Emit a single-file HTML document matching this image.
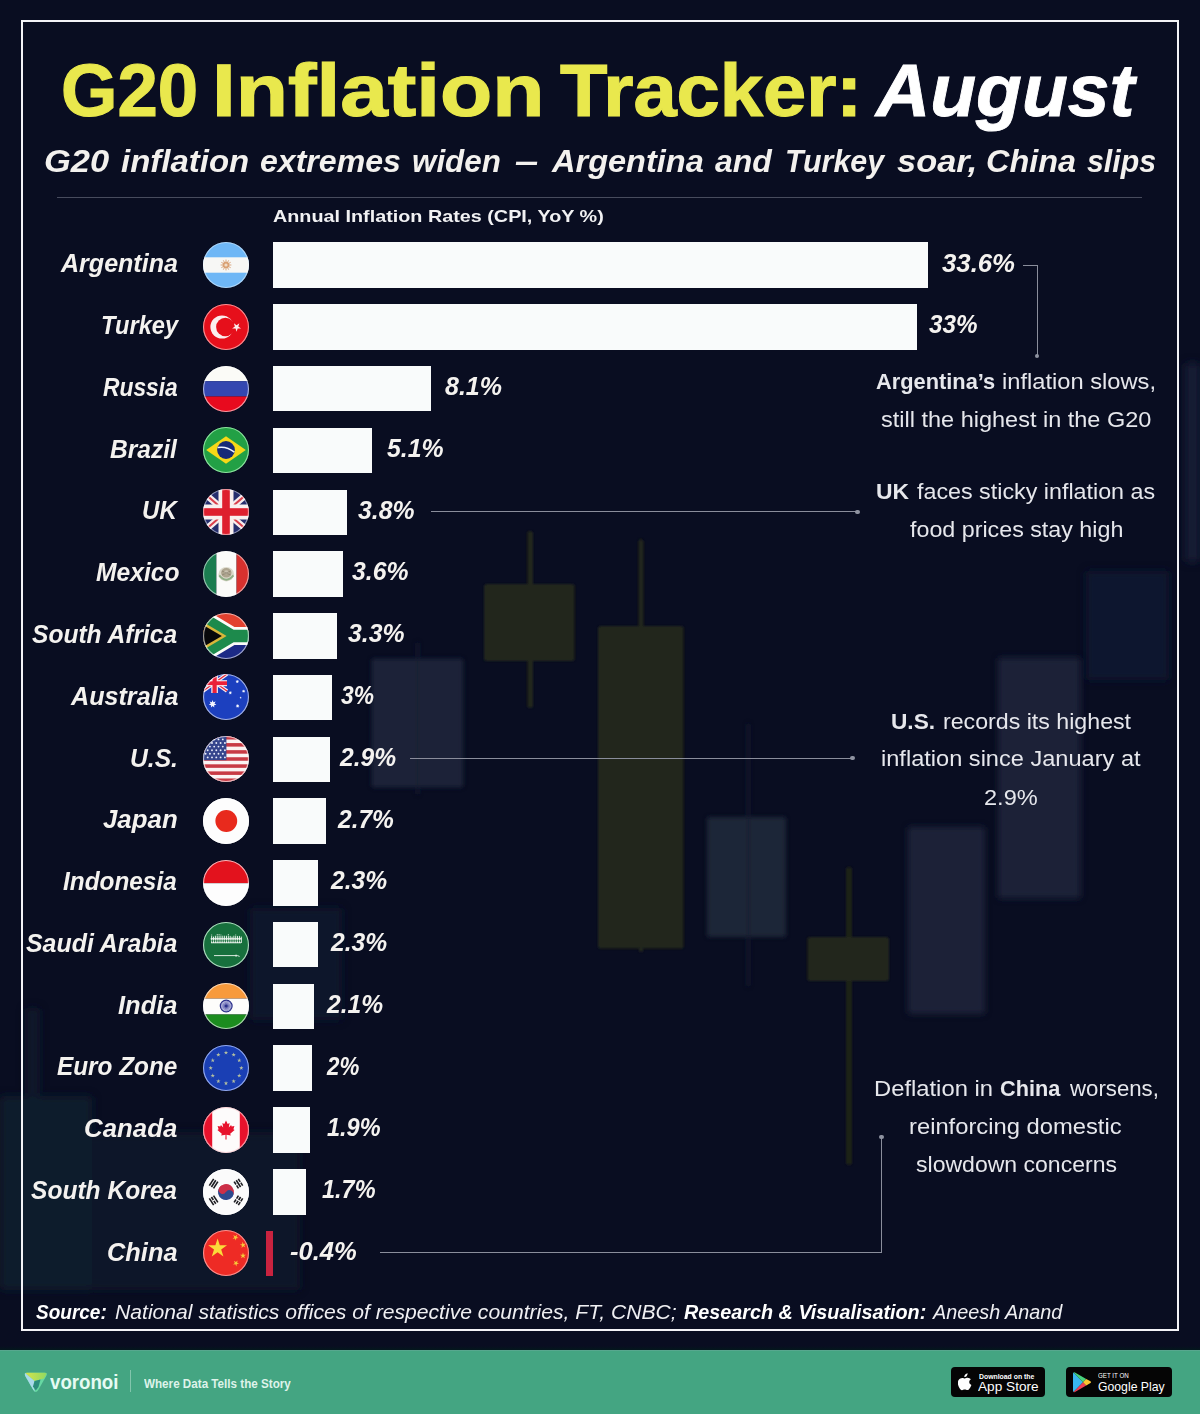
<!DOCTYPE html>
<html lang="en"><head><meta charset="utf-8"><title>G20 Inflation Tracker: August</title>
<style>
*{margin:0;padding:0;box-sizing:border-box}
html,body{width:1200px;height:1414px;overflow:hidden}
body{background:#090d21;font-family:"Liberation Sans",sans-serif;color:#fff;position:relative}
#bg{position:absolute;left:0;top:0;width:1200px;height:1414px}
#frame{position:absolute;left:21.2px;top:20.4px;width:1158.1px;height:1310.8px;border:2.2px solid #f3f3f7}
.t{position:absolute;white-space:nowrap;line-height:1;transform-origin:0 0}
.t b{font-weight:bold}
.i{font-style:italic}
.b{font-weight:bold}
#rule{position:absolute;left:57px;top:196.5px;width:1085px;height:1px;background:#474b5d}
.bar{position:absolute;left:272.8px;height:45.6px;background:#f9fbfb}
.flag{position:absolute;left:203px;width:46px;height:46px}
.flag svg{display:block;width:46px;height:46px}
.ln{position:absolute;background:#8a8d9b}
.dot{position:absolute;width:4.6px;height:4.6px;border-radius:50%;background:#8f93a1}
#footer{position:absolute;left:0;top:1349.7px;width:1200px;height:64.3px;background:#44a582}
</style></head>
<body>
<svg id="bg" width="1200" height="1414" viewBox="0 0 1200 1414"><defs><filter id="b1" x="-5%" y="-5%" width="110%" height="110%"><feGaussianBlur stdDeviation="0.9"/></filter><filter id="b2" x="-5%" y="-5%" width="110%" height="110%"><feGaussianBlur stdDeviation="2.2"/></filter><filter id="b3" x="-5%" y="-5%" width="110%" height="110%"><feGaussianBlur stdDeviation="3.2"/></filter><filter id="b4" x="-5%" y="-5%" width="110%" height="110%"><feGaussianBlur stdDeviation="4"/></filter></defs><g filter="url(#b4)"><rect x="1185" y="363" width="15.0" height="199.0" rx="4" fill="#182036" opacity="0.9"/><rect x="1086" y="571" width="83.0" height="109.0" rx="4" fill="#121b30" opacity="0.9"/><rect x="250" y="908" width="92.0" height="112.0" rx="4" fill="#121b2e" opacity="0.9"/><rect x="0" y="1096" width="92.0" height="194.0" rx="4" fill="#131d30" opacity="0.85"/><rect x="92" y="1132" width="208.0" height="158.0" rx="4" fill="#0f172a" opacity="0.85"/><rect x="25" y="1008" width="15.0" height="88.0" rx="4" fill="#111a2d" opacity="0.7"/></g><g filter="url(#b3)"><rect x="998" y="657.6" width="82.6" height="240.9" rx="3" fill="#1b2338" opacity="0.95"/><rect x="907.8" y="826.8" width="77.2" height="187.2" rx="3" fill="#1b2338" opacity="0.95"/></g><g filter="url(#b2)"><rect x="371.5" y="658.6" width="91.7" height="129.0" rx="3" fill="#1c2437" opacity="1"/><rect x="416.5" y="642" width="2.5" height="153.0" rx="3" fill="#161d31" opacity="1"/><rect x="707" y="817" width="79.0" height="120.0" rx="3" fill="#1f2739" opacity="1"/><rect x="747" y="723" width="2.5" height="264.0" rx="3" fill="#141b2f" opacity="1"/></g><g filter="url(#b1)"><rect x="527.5" y="531" width="5.5" height="177.0" rx="2.5" fill="#20251d" opacity="1"/><rect x="484" y="584" width="90.5" height="77.0" rx="2.5" fill="#20251d" opacity="1"/><rect x="638.7" y="539" width="4.6" height="89.0" rx="2.5" fill="#20251d" opacity="1"/><rect x="598" y="626" width="85.5" height="322.5" rx="2.5" fill="#20251d" opacity="1"/><rect x="638.7" y="946" width="4.6" height="6.0" rx="2.5" fill="#20251d" opacity="1"/><rect x="846" y="867" width="6.0" height="298.0" rx="2.5" fill="#1d2219" opacity="1"/><rect x="807.5" y="937" width="81.5" height="44.0" rx="2.5" fill="#20251d" opacity="1"/></g></svg>
<div id="frame"></div>
<div id="rule"></div>
<div class="flag" style="top:242.0px"><svg viewBox="0 0 46 46"><defs><clipPath id="fc1"><circle cx="23" cy="23" r="23"/></clipPath></defs><g clip-path="url(#fc1)"><rect x="0" y="0" width="46" height="46" fill="#6fb7f6"/><rect x="0" y="15.3" width="46" height="15.4" fill="#f7f7f5"/><line x1="23" y1="23" x2="28.40" y2="23.00" stroke="#dba983" stroke-width="1"/><line x1="23" y1="23" x2="27.68" y2="25.70" stroke="#dba983" stroke-width="1"/><line x1="23" y1="23" x2="25.70" y2="27.68" stroke="#dba983" stroke-width="1"/><line x1="23" y1="23" x2="23.00" y2="28.40" stroke="#dba983" stroke-width="1"/><line x1="23" y1="23" x2="20.30" y2="27.68" stroke="#dba983" stroke-width="1"/><line x1="23" y1="23" x2="18.32" y2="25.70" stroke="#dba983" stroke-width="1"/><line x1="23" y1="23" x2="17.60" y2="23.00" stroke="#dba983" stroke-width="1"/><line x1="23" y1="23" x2="18.32" y2="20.30" stroke="#dba983" stroke-width="1"/><line x1="23" y1="23" x2="20.30" y2="18.32" stroke="#dba983" stroke-width="1"/><line x1="23" y1="23" x2="23.00" y2="17.60" stroke="#dba983" stroke-width="1"/><line x1="23" y1="23" x2="25.70" y2="18.32" stroke="#dba983" stroke-width="1"/><line x1="23" y1="23" x2="27.68" y2="20.30" stroke="#dba983" stroke-width="1"/><circle cx="23" cy="23" r="3.3" fill="#d9a074"/><circle cx="23" cy="23" r="1.6" fill="#f0dcc8"/></g><circle cx="23" cy="23" r="22.45" fill="none" stroke="rgba(255,255,255,.45)" stroke-width="1.1"/></svg></div>
<div class="bar" style="top:242.4px;width:655.5px"></div>
<div class="flag" style="top:303.8px"><svg viewBox="0 0 46 46"><defs><clipPath id="fc2"><circle cx="23" cy="23" r="23"/></clipPath></defs><g clip-path="url(#fc2)"><rect x="0" y="0" width="46" height="46" fill="#e60f1b"/><circle cx="19" cy="23" r="11.6" fill="#fbeeee"/><circle cx="22.4" cy="23" r="9.3" fill="#e60f1b"/><polygon points="36.36,19.20 35.31,22.45 38.07,24.45 34.66,24.45 33.60,27.70 32.54,24.45 29.13,24.45 31.89,22.45 30.84,19.20 33.60,21.20" fill="#fbeeee"/></g><circle cx="23" cy="23" r="22.45" fill="none" stroke="rgba(255,190,190,.75)" stroke-width="1.1"/></svg></div>
<div class="bar" style="top:304.2px;width:643.8px"></div>
<div class="flag" style="top:365.5px"><svg viewBox="0 0 46 46"><defs><clipPath id="fc3"><circle cx="23" cy="23" r="23"/></clipPath></defs><g clip-path="url(#fc3)"><rect x="0" y="0" width="46" height="15.2" fill="#fbfbf7"/><rect x="0" y="15.2" width="46" height="15.3" fill="#3447b0"/><rect x="0" y="30.5" width="46" height="15.5" fill="#e80a1e"/></g><circle cx="23" cy="23" r="22.45" fill="none" stroke="rgba(255,255,255,.6)" stroke-width="1.1"/></svg></div>
<div class="bar" style="top:365.9px;width:158.2px"></div>
<div class="flag" style="top:427.3px"><svg viewBox="0 0 46 46"><defs><clipPath id="fc4"><circle cx="23" cy="23" r="23"/></clipPath></defs><g clip-path="url(#fc4)"><rect x="0" y="0" width="46" height="46" fill="#22a045"/><polygon points="3.2,23 23,9.3 42.8,23 23,36.7" fill="#f6d817"/><circle cx="23" cy="23" r="8.9" fill="#172a78"/><path d="M14.6 20.6 Q23.5 18.8 31.4 25.2" fill="none" stroke="#eef3ff" stroke-width="1.5"/></g><circle cx="23" cy="23" r="22.45" fill="none" stroke="rgba(190,255,200,.7)" stroke-width="1.1"/></svg></div>
<div class="bar" style="top:427.7px;width:99.7px"></div>
<div class="flag" style="top:489.1px"><svg viewBox="0 0 46 46"><defs><clipPath id="fc5"><circle cx="23" cy="23" r="23"/></clipPath></defs><g clip-path="url(#fc5)"><rect x="0" y="0" width="46" height="46" fill="#252e6e"/><path d="M-6 -2 L52 48 M52 -2 L-6 48" stroke="#f6ecec" stroke-width="6.4"/><path d="M-6 -2 L52 48 M52 -2 L-6 48" stroke="#d9404c" stroke-width="2"/><rect x="15.5" y="0" width="15" height="46" fill="#f8efee"/><rect x="0" y="15.5" width="46" height="15" fill="#f8efee"/><rect x="19.2" y="0" width="7.6" height="46" fill="#de1f2e"/><rect x="0" y="19.2" width="46" height="7.6" fill="#de1f2e"/></g><circle cx="23" cy="23" r="22.45" fill="none" stroke="rgba(255,255,255,.5)" stroke-width="1.1"/></svg></div>
<div class="bar" style="top:489.5px;width:74.4px"></div>
<div class="flag" style="top:550.9px"><svg viewBox="0 0 46 46"><defs><clipPath id="fc6"><circle cx="23" cy="23" r="23"/></clipPath></defs><g clip-path="url(#fc6)"><rect x="0" y="0" width="13.4" height="46" fill="#1b7d50"/><rect x="13.4" y="0" width="20.2" height="46" fill="#fbfbf9"/><rect x="33.6" y="0" width="12.4" height="46" fill="#d8312e"/><ellipse cx="23.3" cy="23.2" rx="7.8" ry="7.2" fill="#dcd9cb"/><ellipse cx="23.3" cy="21.8" rx="5.2" ry="4.8" fill="#a59a84" opacity=".85"/><path d="M16.2 24.4 Q23.3 33 30.4 24.4" fill="none" stroke="#8fae86" stroke-width="2"/><ellipse cx="23.3" cy="21.2" rx="2.4" ry="2" fill="#c9c2b0"/><path d="M19 20 L27.6 24 M27.6 20 L19 24" stroke="#7d7462" stroke-width=".8" opacity=".7"/></g><circle cx="23" cy="23" r="22.45" fill="none" stroke="rgba(255,255,255,.55)" stroke-width="1.1"/></svg></div>
<div class="bar" style="top:551.2px;width:70.5px"></div>
<div class="flag" style="top:612.6px"><svg viewBox="0 0 46 46"><defs><clipPath id="fc7"><circle cx="23" cy="23" r="23"/></clipPath></defs><g clip-path="url(#fc7)"><rect x="0" y="0" width="46" height="23" fill="#e2412f"/><rect x="0" y="23" width="46" height="23" fill="#1c2a86"/><path d="M-10 -0.4 L29 23 L-10 46.4 M29 23 L52 23" stroke="#fbfbf8" stroke-width="18" fill="none"/><path d="M-10 -0.4 L29 23 L-10 46.4 M29 23 L52 23" stroke="#1d8a4c" stroke-width="12.4" fill="none"/><polygon points="-6,5.3 23.6,23 -6,40.7" fill="#d9b63a"/><polygon points="-6,8.4 18.9,23 -6,37.6" fill="#08080a"/></g><circle cx="23" cy="23" r="22.45" fill="none" stroke="rgba(255,255,255,.6)" stroke-width="1.1"/></svg></div>
<div class="bar" style="top:613.0px;width:64.6px"></div>
<div class="flag" style="top:674.4px"><svg viewBox="0 0 46 46"><defs><clipPath id="fc8"><circle cx="23" cy="23" r="23"/></clipPath></defs><g clip-path="url(#fc8)"><rect x="0" y="0" width="46" height="46" fill="#1c40bf"/><g><path d="M0 0 L24 17 M24 0 L0 17" stroke="#f5eef2" stroke-width="3.6"/><path d="M0 0 L24 17 M24 0 L0 17" stroke="#e8283c" stroke-width="1.3"/><rect x="8.3" y="0" width="6.6" height="19" fill="#f5eef2"/><rect x="0" y="6.2" width="24" height="6" fill="#f5eef2"/><rect x="9.5" y="0" width="4.2" height="19" fill="#ea2038"/><rect x="0" y="7.3" width="24" height="3.8" fill="#ea2038"/></g><polygon points="9.60,26.10 10.42,28.29 12.65,27.57 11.45,29.58 13.40,30.87 11.09,31.18 11.29,33.51 9.60,31.90 7.91,33.51 8.11,31.18 5.80,30.87 7.75,29.58 6.55,27.57 8.78,28.29" fill="#f4f6ff"/><polygon points="34.30,5.70 34.69,6.79 35.79,6.42 35.18,7.40 36.15,8.02 35.00,8.16 35.12,9.31 34.30,8.50 33.48,9.31 33.60,8.16 32.45,8.02 33.42,7.40 32.81,6.42 33.91,6.79" fill="#f4f6ff"/><polygon points="27.30,16.90 27.69,17.99 28.79,17.62 28.18,18.60 29.15,19.22 28.00,19.36 28.12,20.51 27.30,19.70 26.48,20.51 26.60,19.36 25.45,19.22 26.42,18.60 25.81,17.62 26.91,17.99" fill="#f4f6ff"/><polygon points="40.60,15.40 40.99,16.39 42.01,16.08 41.48,17.00 42.35,17.60 41.30,17.76 41.38,18.82 40.60,18.10 39.82,18.82 39.90,17.76 38.85,17.60 39.72,17.00 39.19,16.08 40.21,16.39" fill="#f4f6ff"/><polygon points="34.60,30.00 35.03,31.10 36.16,30.75 35.57,31.78 36.55,32.45 35.38,32.62 35.47,33.80 34.60,33.00 33.73,33.80 33.82,32.62 32.65,32.45 33.63,31.78 33.04,30.75 34.17,31.10" fill="#f4f6ff"/><polygon points="37.60,22.60 37.92,23.26 38.65,23.36 38.12,23.87 38.25,24.59 37.60,24.25 36.95,24.59 37.08,23.87 36.55,23.36 37.28,23.26" fill="#f4f6ff"/></g><circle cx="23" cy="23" r="22.45" fill="none" stroke="rgba(255,255,255,.6)" stroke-width="1.1"/></svg></div>
<div class="bar" style="top:674.8px;width:58.8px"></div>
<div class="flag" style="top:736.2px"><svg viewBox="0 0 46 46"><defs><clipPath id="fc9"><circle cx="23" cy="23" r="23"/></clipPath></defs><g clip-path="url(#fc9)"><rect x="0" y="0" width="46" height="46" fill="#fbf3f3"/><rect x="0" y="0.0" width="46" height="3.5384615384615383" fill="#c83a45"/><rect x="0" y="7.076923076923077" width="46" height="3.5384615384615383" fill="#c83a45"/><rect x="0" y="14.153846153846153" width="46" height="3.5384615384615383" fill="#c83a45"/><rect x="0" y="21.23076923076923" width="46" height="3.5384615384615383" fill="#c83a45"/><rect x="0" y="28.307692307692307" width="46" height="3.5384615384615383" fill="#c83a45"/><rect x="0" y="35.38461538461539" width="46" height="3.5384615384615383" fill="#c83a45"/><rect x="0" y="42.46153846153846" width="46" height="3.5384615384615383" fill="#c83a45"/><rect x="0" y="0" width="23.4" height="24.169230769230765" fill="#35458c"/><circle cx="2.6" cy="3.4" r="0.95" fill="#e9ecfa"/><circle cx="6.9" cy="3.4" r="0.95" fill="#e9ecfa"/><circle cx="11.2" cy="3.4" r="0.95" fill="#e9ecfa"/><circle cx="15.5" cy="3.4" r="0.95" fill="#e9ecfa"/><circle cx="19.8" cy="3.4" r="0.95" fill="#e9ecfa"/><circle cx="4.7" cy="7.0" r="0.95" fill="#e9ecfa"/><circle cx="9.0" cy="7.0" r="0.95" fill="#e9ecfa"/><circle cx="13.3" cy="7.0" r="0.95" fill="#e9ecfa"/><circle cx="17.6" cy="7.0" r="0.95" fill="#e9ecfa"/><circle cx="21.9" cy="7.0" r="0.95" fill="#e9ecfa"/><circle cx="2.6" cy="10.6" r="0.95" fill="#e9ecfa"/><circle cx="6.9" cy="10.6" r="0.95" fill="#e9ecfa"/><circle cx="11.2" cy="10.6" r="0.95" fill="#e9ecfa"/><circle cx="15.5" cy="10.6" r="0.95" fill="#e9ecfa"/><circle cx="19.8" cy="10.6" r="0.95" fill="#e9ecfa"/><circle cx="4.7" cy="14.2" r="0.95" fill="#e9ecfa"/><circle cx="9.0" cy="14.2" r="0.95" fill="#e9ecfa"/><circle cx="13.3" cy="14.2" r="0.95" fill="#e9ecfa"/><circle cx="17.6" cy="14.2" r="0.95" fill="#e9ecfa"/><circle cx="21.9" cy="14.2" r="0.95" fill="#e9ecfa"/><circle cx="2.6" cy="17.8" r="0.95" fill="#e9ecfa"/><circle cx="6.9" cy="17.8" r="0.95" fill="#e9ecfa"/><circle cx="11.2" cy="17.8" r="0.95" fill="#e9ecfa"/><circle cx="15.5" cy="17.8" r="0.95" fill="#e9ecfa"/><circle cx="19.8" cy="17.8" r="0.95" fill="#e9ecfa"/><circle cx="4.7" cy="21.4" r="0.95" fill="#e9ecfa"/><circle cx="9.0" cy="21.4" r="0.95" fill="#e9ecfa"/><circle cx="13.3" cy="21.4" r="0.95" fill="#e9ecfa"/><circle cx="17.6" cy="21.4" r="0.95" fill="#e9ecfa"/><circle cx="21.9" cy="21.4" r="0.95" fill="#e9ecfa"/></g><circle cx="23" cy="23" r="22.45" fill="none" stroke="rgba(255,255,255,.65)" stroke-width="1.1"/></svg></div>
<div class="bar" style="top:736.6px;width:56.8px"></div>
<div class="flag" style="top:797.9px"><svg viewBox="0 0 46 46"><defs><clipPath id="fc10"><circle cx="23" cy="23" r="23"/></clipPath></defs><g clip-path="url(#fc10)"><rect x="0" y="0" width="46" height="46" fill="#fdfdfd"/><circle cx="23.3" cy="23" r="10.9" fill="#e82a1d"/></g><circle cx="23" cy="23" r="22.45" fill="none" stroke="rgba(255,255,255,.9)" stroke-width="1.1"/></svg></div>
<div class="bar" style="top:798.3px;width:53.0px"></div>
<div class="flag" style="top:859.7px"><svg viewBox="0 0 46 46"><defs><clipPath id="fc11"><circle cx="23" cy="23" r="23"/></clipPath></defs><g clip-path="url(#fc11)"><rect x="0" y="0" width="46" height="23.2" fill="#e3121d"/><rect x="0" y="23.2" width="46" height="23" fill="#fdfdfd"/></g><circle cx="23" cy="23" r="22.45" fill="none" stroke="rgba(255,255,255,.7)" stroke-width="1.1"/></svg></div>
<div class="bar" style="top:860.1px;width:45.1px"></div>
<div class="flag" style="top:921.5px"><svg viewBox="0 0 46 46"><defs><clipPath id="fc12"><circle cx="23" cy="23" r="23"/></clipPath></defs><g clip-path="url(#fc12)"><rect x="0" y="0" width="46" height="46" fill="#17703d"/><rect x="8.20" y="12.60" width="0.95" height="8.40" fill="#f2f7f2"/><rect x="10.05" y="14.60" width="0.95" height="6.40" fill="#f2f7f2"/><rect x="11.90" y="13.40" width="0.95" height="7.60" fill="#f2f7f2"/><rect x="13.75" y="12.20" width="0.95" height="8.80" fill="#f2f7f2"/><rect x="15.60" y="12.20" width="0.95" height="8.80" fill="#f2f7f2"/><rect x="17.45" y="12.60" width="0.95" height="8.40" fill="#f2f7f2"/><rect x="19.30" y="13.40" width="0.95" height="7.60" fill="#f2f7f2"/><rect x="21.15" y="13.40" width="0.95" height="7.60" fill="#f2f7f2"/><rect x="23.00" y="13.40" width="0.95" height="7.60" fill="#f2f7f2"/><rect x="24.85" y="12.20" width="0.95" height="8.80" fill="#f2f7f2"/><rect x="26.70" y="13.80" width="0.95" height="7.20" fill="#f2f7f2"/><rect x="28.55" y="14.60" width="0.95" height="6.40" fill="#f2f7f2"/><rect x="30.40" y="13.40" width="0.95" height="7.60" fill="#f2f7f2"/><rect x="32.25" y="12.60" width="0.95" height="8.40" fill="#f2f7f2"/><rect x="34.10" y="13.80" width="0.95" height="7.20" fill="#f2f7f2"/><rect x="35.95" y="13.80" width="0.95" height="7.20" fill="#f2f7f2"/><rect x="37.80" y="14.60" width="0.95" height="6.40" fill="#f2f7f2"/><rect x="7.6" y="16.2" width="31" height="1.2" fill="#f2f7f2"/><rect x="8" y="20.2" width="30" height="1.1" fill="#f2f7f2" opacity=".85"/><rect x="8" y="13.2" width="30" height="0.9" fill="#17703d" opacity=".7"/><rect x="8" y="18.3" width="30" height="0.9" fill="#17703d" opacity=".55"/><path d="M11 33.6 L34.4 33.6 L36.6 34.4" stroke="#f2f7f2" stroke-width="0.9" fill="none"/><rect x="32.6" y="32.6" width="0.9" height="2.2" fill="#f2f7f2"/></g><circle cx="23" cy="23" r="22.45" fill="none" stroke="rgba(225,255,235,.75)" stroke-width="1.1"/></svg></div>
<div class="bar" style="top:921.9px;width:45.1px"></div>
<div class="flag" style="top:983.2px"><svg viewBox="0 0 46 46"><defs><clipPath id="fc13"><circle cx="23" cy="23" r="23"/></clipPath></defs><g clip-path="url(#fc13)"><rect x="0" y="0" width="46" height="15.6" fill="#f79a3c"/><rect x="0" y="15.6" width="46" height="15.9" fill="#fdfdfb"/><rect x="0" y="31.5" width="46" height="14.5" fill="#1c8c1f"/><circle cx="23.2" cy="23" r="5.9" fill="#e7e8f7" stroke="#2b2f8a" stroke-width="1.2"/><line x1="23.2" y1="23" x2="28.80" y2="23.00" stroke="#3b3f9a" stroke-width=".55"/><line x1="23.2" y1="23" x2="28.61" y2="24.45" stroke="#3b3f9a" stroke-width=".55"/><line x1="23.2" y1="23" x2="28.05" y2="25.80" stroke="#3b3f9a" stroke-width=".55"/><line x1="23.2" y1="23" x2="27.16" y2="26.96" stroke="#3b3f9a" stroke-width=".55"/><line x1="23.2" y1="23" x2="26.00" y2="27.85" stroke="#3b3f9a" stroke-width=".55"/><line x1="23.2" y1="23" x2="24.65" y2="28.41" stroke="#3b3f9a" stroke-width=".55"/><line x1="23.2" y1="23" x2="23.20" y2="28.60" stroke="#3b3f9a" stroke-width=".55"/><line x1="23.2" y1="23" x2="21.75" y2="28.41" stroke="#3b3f9a" stroke-width=".55"/><line x1="23.2" y1="23" x2="20.40" y2="27.85" stroke="#3b3f9a" stroke-width=".55"/><line x1="23.2" y1="23" x2="19.24" y2="26.96" stroke="#3b3f9a" stroke-width=".55"/><line x1="23.2" y1="23" x2="18.35" y2="25.80" stroke="#3b3f9a" stroke-width=".55"/><line x1="23.2" y1="23" x2="17.79" y2="24.45" stroke="#3b3f9a" stroke-width=".55"/><line x1="23.2" y1="23" x2="17.60" y2="23.00" stroke="#3b3f9a" stroke-width=".55"/><line x1="23.2" y1="23" x2="17.79" y2="21.55" stroke="#3b3f9a" stroke-width=".55"/><line x1="23.2" y1="23" x2="18.35" y2="20.20" stroke="#3b3f9a" stroke-width=".55"/><line x1="23.2" y1="23" x2="19.24" y2="19.04" stroke="#3b3f9a" stroke-width=".55"/><line x1="23.2" y1="23" x2="20.40" y2="18.15" stroke="#3b3f9a" stroke-width=".55"/><line x1="23.2" y1="23" x2="21.75" y2="17.59" stroke="#3b3f9a" stroke-width=".55"/><line x1="23.2" y1="23" x2="23.20" y2="17.40" stroke="#3b3f9a" stroke-width=".55"/><line x1="23.2" y1="23" x2="24.65" y2="17.59" stroke="#3b3f9a" stroke-width=".55"/><line x1="23.2" y1="23" x2="26.00" y2="18.15" stroke="#3b3f9a" stroke-width=".55"/><line x1="23.2" y1="23" x2="27.16" y2="19.04" stroke="#3b3f9a" stroke-width=".55"/><line x1="23.2" y1="23" x2="28.05" y2="20.20" stroke="#3b3f9a" stroke-width=".55"/><line x1="23.2" y1="23" x2="28.61" y2="21.55" stroke="#3b3f9a" stroke-width=".55"/><circle cx="23.2" cy="23" r="1.3" fill="#2b2f8a"/></g><circle cx="23" cy="23" r="22.45" fill="none" stroke="rgba(255,255,255,.65)" stroke-width="1.1"/></svg></div>
<div class="bar" style="top:983.6px;width:41.2px"></div>
<div class="flag" style="top:1045.0px"><svg viewBox="0 0 46 46"><defs><clipPath id="fc14"><circle cx="23" cy="23" r="23"/></clipPath></defs><g clip-path="url(#fc14)"><rect x="0" y="0" width="46" height="46" fill="#1a3fb4"/><polygon points="38.30,20.70 38.82,22.29 40.49,22.29 39.14,23.27 39.65,24.86 38.30,23.88 36.95,24.86 37.46,23.27 36.11,22.29 37.78,22.29" fill="#b4bfa0"/><polygon points="36.25,28.35 36.77,29.94 38.44,29.94 37.09,30.92 37.60,32.51 36.25,31.53 34.90,32.51 35.41,30.92 34.06,29.94 35.73,29.94" fill="#b4bfa0"/><polygon points="30.65,33.95 31.17,35.54 32.84,35.54 31.49,36.52 32.00,38.11 30.65,37.13 29.30,38.11 29.81,36.52 28.46,35.54 30.13,35.54" fill="#b4bfa0"/><polygon points="23.00,36.00 23.52,37.59 25.19,37.59 23.84,38.57 24.35,40.16 23.00,39.18 21.65,40.16 22.16,38.57 20.81,37.59 22.48,37.59" fill="#b4bfa0"/><polygon points="15.35,33.95 15.87,35.54 17.54,35.54 16.19,36.52 16.70,38.11 15.35,37.13 14.00,38.11 14.51,36.52 13.16,35.54 14.83,35.54" fill="#b4bfa0"/><polygon points="9.75,28.35 10.27,29.94 11.94,29.94 10.59,30.92 11.10,32.51 9.75,31.53 8.40,32.51 8.91,30.92 7.56,29.94 9.23,29.94" fill="#b4bfa0"/><polygon points="7.70,20.70 8.22,22.29 9.89,22.29 8.54,23.27 9.05,24.86 7.70,23.88 6.35,24.86 6.86,23.27 5.51,22.29 7.18,22.29" fill="#b4bfa0"/><polygon points="9.75,13.05 10.27,14.64 11.94,14.64 10.59,15.62 11.10,17.21 9.75,16.23 8.40,17.21 8.91,15.62 7.56,14.64 9.23,14.64" fill="#b4bfa0"/><polygon points="15.35,7.45 15.87,9.04 17.54,9.04 16.19,10.02 16.70,11.61 15.35,10.63 14.00,11.61 14.51,10.02 13.16,9.04 14.83,9.04" fill="#b4bfa0"/><polygon points="23.00,5.40 23.52,6.99 25.19,6.99 23.84,7.97 24.35,9.56 23.00,8.58 21.65,9.56 22.16,7.97 20.81,6.99 22.48,6.99" fill="#b4bfa0"/><polygon points="30.65,7.45 31.17,9.04 32.84,9.04 31.49,10.02 32.00,11.61 30.65,10.63 29.30,11.61 29.81,10.02 28.46,9.04 30.13,9.04" fill="#b4bfa0"/><polygon points="36.25,13.05 36.77,14.64 38.44,14.64 37.09,15.62 37.60,17.21 36.25,16.23 34.90,17.21 35.41,15.62 34.06,14.64 35.73,14.64" fill="#b4bfa0"/></g><circle cx="23" cy="23" r="22.45" fill="none" stroke="rgba(190,205,255,.75)" stroke-width="1.1"/></svg></div>
<div class="bar" style="top:1045.4px;width:39.3px"></div>
<div class="flag" style="top:1106.8px"><svg viewBox="0 0 46 46"><defs><clipPath id="fc15"><circle cx="23" cy="23" r="23"/></clipPath></defs><g clip-path="url(#fc15)"><rect x="0" y="0" width="46" height="46" fill="#fdfbfb"/><rect x="0" y="0" width="9.2" height="46" fill="#e8122c"/><rect x="36.8" y="0" width="9.2" height="46" fill="#e8122c"/><path d="M23 13.6 L24.7 17 L26.6 16 L25.8 20.4 L28.1 18.1 L28.7 19.6 L31.4 19.1 L30.4 22.3 L31.6 23 L27.2 26.7 L27.8 28.4 L23.5 27.7 L23.6 32.4 L22.4 32.4 L22.5 27.7 L18.2 28.4 L18.8 26.7 L14.4 23 L15.6 22.3 L14.6 19.1 L17.3 19.6 L17.9 18.1 L20.2 20.4 L19.4 16 L21.3 17 Z" fill="#e8122c"/></g><circle cx="23" cy="23" r="22.45" fill="none" stroke="rgba(255,200,205,.7)" stroke-width="1.1"/></svg></div>
<div class="bar" style="top:1107.2px;width:37.3px"></div>
<div class="flag" style="top:1168.6px"><svg viewBox="0 0 46 46"><defs><clipPath id="fc16"><circle cx="23" cy="23" r="23"/></clipPath></defs><g clip-path="url(#fc16)"><rect x="0" y="0" width="46" height="46" fill="#fbfbfb"/><g transform="rotate(33 23 23)"><path d="M15 23 A8 8 0 0 1 31 23 Z" fill="#cc2f47"/><path d="M15 23 A8 8 0 0 0 31 23 Z" fill="#2d4a8e"/><circle cx="19" cy="23" r="4" fill="#cc2f47"/><circle cx="27" cy="23" r="4" fill="#2d4a8e"/></g><g transform="translate(10.6,14.6) rotate(-57)"><rect x="-4" y="-3.3" width="8" height="1.6" fill="#1c1c20"/><rect x="-4" y="-0.7999999999999998" width="8" height="1.6" fill="#1c1c20"/><rect x="-4" y="1.7000000000000002" width="8" height="1.6" fill="#1c1c20"/></g><g transform="translate(35.4,31.4) rotate(-57)"><rect x="-4" y="-3.3" width="3.5" height="1.6" fill="#1c1c20"/><rect x="0.5" y="-3.3" width="3.5" height="1.6" fill="#1c1c20"/><rect x="-4" y="-0.7999999999999998" width="3.5" height="1.6" fill="#1c1c20"/><rect x="0.5" y="-0.7999999999999998" width="3.5" height="1.6" fill="#1c1c20"/><rect x="-4" y="1.7000000000000002" width="3.5" height="1.6" fill="#1c1c20"/><rect x="0.5" y="1.7000000000000002" width="3.5" height="1.6" fill="#1c1c20"/></g><g transform="translate(35.4,14.6) rotate(57)"><rect x="-4" y="-3.3" width="3.5" height="1.6" fill="#1c1c20"/><rect x="0.5" y="-3.3" width="3.5" height="1.6" fill="#1c1c20"/><rect x="-4" y="-0.7999999999999998" width="8" height="1.6" fill="#1c1c20"/><rect x="-4" y="1.7000000000000002" width="3.5" height="1.6" fill="#1c1c20"/><rect x="0.5" y="1.7000000000000002" width="3.5" height="1.6" fill="#1c1c20"/></g><g transform="translate(10.6,31.4) rotate(57)"><rect x="-4" y="-3.3" width="8" height="1.6" fill="#1c1c20"/><rect x="-4" y="-0.7999999999999998" width="3.5" height="1.6" fill="#1c1c20"/><rect x="0.5" y="-0.7999999999999998" width="3.5" height="1.6" fill="#1c1c20"/><rect x="-4" y="1.7000000000000002" width="8" height="1.6" fill="#1c1c20"/></g></g><circle cx="23" cy="23" r="22.45" fill="none" stroke="rgba(255,255,255,.9)" stroke-width="1.1"/></svg></div>
<div class="bar" style="top:1169.0px;width:33.4px"></div>
<div class="flag" style="top:1230.3px"><svg viewBox="0 0 46 46"><defs><clipPath id="fc17"><circle cx="23" cy="23" r="23"/></clipPath></defs><g clip-path="url(#fc17)"><rect x="0" y="0" width="46" height="46" fill="#ee2b25"/><polygon points="14.60,8.50 16.82,15.34 24.02,15.34 18.20,19.57 20.42,26.41 14.60,22.18 8.78,26.41 11.00,19.57 5.18,15.34 12.38,15.34" fill="#fbdc3a"/><polygon points="34.10,4.63 33.62,6.90 35.63,8.07 33.32,8.31 32.83,10.58 31.89,8.46 29.58,8.70 31.30,7.15 30.36,5.02 32.37,6.18" fill="#f6c838"/><polygon points="39.44,11.85 40.54,13.90 42.83,13.50 41.21,15.17 42.30,17.22 40.21,16.20 38.60,17.88 38.92,15.57 36.83,14.55 39.12,14.15" fill="#f6c838"/><polygon points="40.00,22.50 40.72,24.71 43.04,24.71 41.16,26.08 41.88,28.29 40.00,26.92 38.12,28.29 38.84,26.08 36.96,24.71 39.28,24.71" fill="#f6c838"/><polygon points="34.60,30.43 34.12,32.70 36.13,33.87 33.82,34.11 33.33,36.38 32.39,34.26 30.08,34.50 31.80,32.95 30.86,30.82 32.87,31.98" fill="#f6c838"/></g><circle cx="23" cy="23" r="22.45" fill="none" stroke="rgba(255,190,190,.7)" stroke-width="1.1"/></svg></div>
<div class="bar" style="top:1230.7px;left:265.7px;width:6.9px;background:#c9233f"></div>
<div class="ln" style="left:1023px;top:265px;width:14px;height:1px"></div>
<div class="ln" style="left:1036.5px;top:265px;width:1px;height:91px"></div>
<div class="dot" style="left:1034.5px;top:353.5px"></div>
<div class="ln" style="left:430.5px;top:511.3px;width:427px;height:1px"></div>
<div class="dot" style="left:855.3px;top:509.5px"></div>
<div class="ln" style="left:410.3px;top:757.5px;width:442px;height:1px"></div>
<div class="dot" style="left:850px;top:755.5px"></div>
<div class="ln" style="left:380px;top:1252px;width:502px;height:1px"></div>
<div class="ln" style="left:881px;top:1137px;width:1px;height:116px"></div>
<div class="dot" style="left:879px;top:1134.5px"></div>
<div id="footer"><div style="position:absolute;left:0;top:-4px;width:1200px;height:4px;background:linear-gradient(rgba(2,24,28,0),rgba(2,24,28,.9))"></div><div style="position:absolute;left:0;top:0;width:1200px;height:1.6px;background:#57a78e"></div><svg style="position:absolute;left:24px;top:22px;width:23.5px;height:20.5px" viewBox="0 0 47 41"><defs><clipPath id="vl"><path d="M6 1 H41 Q48 1 44.5 8 L28.5 36 Q23.5 44 18.5 36 L2.5 8 Q-1 1 6 1 Z"/></clipPath><linearGradient id="vg" x1="0" y1="0" x2="1" y2="0"><stop offset="0" stop-color="#d9e44a"/><stop offset="1" stop-color="#8ed862"/></linearGradient></defs><g clip-path="url(#vl)"><rect width="47" height="41" fill="#66d8a2"/><polygon points="0,0 47,0 40,13 21,18 8,7" fill="url(#vg)"/><polygon points="0,0 8,7 21,18 19,30 22,41 0,12" fill="#a9d9ea"/><polygon points="21,18 33,15 29,30 23.5,37 18,29" fill="#2b8d7c"/></g></svg><div style="position:absolute;left:129.8px;top:20.5px;width:1px;height:22px;background:rgba(225,245,235,.4)"></div><div style="position:absolute;left:951px;top:17.6px;width:94px;height:30px;border-radius:4px;background:#050505"></div><div style="position:absolute;left:1066px;top:17.6px;width:106px;height:30px;border-radius:4px;background:#050505"></div><svg style="position:absolute;left:958px;top:23.5px;width:14px;height:17.5px" viewBox="0 0 14 17.5"><path d="M9.6 0.2 C9.7 1.2 9.3 2.2 8.7 2.9 C8.1 3.6 7.2 4.2 6.3 4.1 C6.2 3.1 6.7 2.1 7.2 1.5 C7.8 0.8 8.8 0.3 9.6 0.2 Z M12.9 6.2 C12.1 6.7 11.2 7.6 11.2 9.1 C11.2 10.9 12.7 11.7 13.4 12 C13.2 12.7 12.7 13.9 11.9 15 C11.2 16 10.5 17.1 9.4 17.1 C8.3 17.1 8 16.5 6.7 16.5 C5.5 16.5 5 17.1 4 17.2 C2.9 17.2 2.1 16 1.4 15 C-0.1 12.9 -0.9 9.1 0.8 6.8 C1.6 5.6 2.9 4.9 4.2 4.9 C5.3 4.9 6.3 5.6 6.9 5.6 C7.5 5.6 8.8 4.7 10.2 4.9 C10.8 4.9 12.1 5.1 12.9 6.2 Z" fill="#fff"/></svg><svg style="position:absolute;left:1073px;top:22.5px;width:18.5px;height:20.5px" viewBox="0 0 18.5 20.5"><path d="M0.6 0.6 L10 10.2 L0.6 19.9 Q0 19.4 0 18.6 V1.9 Q0 1.1 0.6 0.6 Z" fill="#38b7f0"/><path d="M0.6 0.6 Q1.4 0.1 2.4 0.7 L13.2 6.9 L10 10.2 Z" fill="#48d27c"/><path d="M0.6 19.9 Q1.4 20.4 2.4 19.8 L13.2 13.6 L10 10.2 Z" fill="#ef4056"/><path d="M13.2 6.9 L17.5 9.3 Q18.6 10.2 17.5 11.1 L13.2 13.6 L10 10.2 Z" fill="#fbc531"/></svg></div>
<div class="t b" style="left:60.60px;top:52.50px;font-size:75px;color:#e9e84d;transform:scaleX(0.9666);-webkit-text-stroke:1.2px #e9e84d">G20</div>
<div class="t b" style="left:211.80px;top:52.50px;font-size:75px;color:#e9e84d;transform:scaleX(1.1404);-webkit-text-stroke:1.2px #e9e84d">Inflation</div>
<div class="t b" style="left:560.00px;top:52.50px;font-size:75px;color:#e9e84d;transform:scaleX(1.0355);-webkit-text-stroke:1.2px #e9e84d">Tracker:</div>
<div class="t i b" style="left:876.00px;top:52.50px;font-size:75px;color:#ffffff;transform:scaleX(1.0007);-webkit-text-stroke:0.9px #ffffff">August</div>
<div class="t i b" style="left:43.92px;top:144.70px;font-size:32px;color:#f3f1ee;transform:scaleX(1.0773)">G20</div>
<div class="t i b" style="left:120.70px;top:144.70px;font-size:32px;color:#f3f1ee;transform:scaleX(1.0301)">inflation</div>
<div class="t i b" style="left:260.00px;top:144.70px;font-size:32px;color:#f3f1ee;transform:scaleX(1.0018)">extremes</div>
<div class="t i b" style="left:411.72px;top:144.70px;font-size:32px;color:#f3f1ee;transform:scaleX(0.9795)">widen</div>
<div class="t i b" style="left:515.66px;top:144.70px;font-size:32px;color:#f3f1ee;transform:scaleX(0.6559)">—</div>
<div class="t i b" style="left:551.72px;top:144.70px;font-size:32px;color:#f3f1ee;transform:scaleX(1.0164)">Argentina</div>
<div class="t i b" style="left:715.00px;top:144.70px;font-size:32px;color:#f3f1ee;transform:scaleX(0.9993)">and</div>
<div class="t i b" style="left:784.80px;top:144.70px;font-size:32px;color:#f3f1ee;transform:scaleX(0.9497)">Turkey</div>
<div class="t i b" style="left:896.70px;top:144.70px;font-size:32px;color:#f3f1ee;transform:scaleX(1.0751)">soar,</div>
<div class="t i b" style="left:985.69px;top:144.70px;font-size:32px;color:#f3f1ee;transform:scaleX(1.0139)">China</div>
<div class="t i b" style="left:1086.70px;top:144.70px;font-size:32px;color:#f3f1ee;transform:scaleX(0.9470)">slips</div>
<div class="t b" style="left:273.30px;top:208.30px;font-size:17px;color:#f1f1f3;transform:scaleX(1.1634)">Annual Inflation Rates (CPI, YoY %)</div>
<div class="t i b" style="left:60.90px;top:251.40px;font-size:25px;color:#f4f2ef;transform:scaleX(1.0019)">Argentina</div>
<div class="t i b" style="left:101.45px;top:313.17px;font-size:25px;color:#f4f2ef;transform:scaleX(0.9458)">Turkey</div>
<div class="t i b" style="left:102.70px;top:374.94px;font-size:25px;color:#f4f2ef;transform:scaleX(0.9125)">Russia</div>
<div class="t i b" style="left:110.00px;top:436.71px;font-size:25px;color:#f4f2ef;transform:scaleX(0.9822)">Brazil</div>
<div class="t i b" style="left:142.14px;top:498.48px;font-size:25px;color:#f4f2ef;transform:scaleX(0.9635)">UK</div>
<div class="t i b" style="left:95.60px;top:560.25px;font-size:25px;color:#f4f2ef;transform:scaleX(0.9848)">Mexico</div>
<div class="t i b" style="left:32.20px;top:622.02px;font-size:25px;color:#f4f2ef;transform:scaleX(0.9824)">South Africa</div>
<div class="t i b" style="left:70.61px;top:683.79px;font-size:25px;color:#f4f2ef;transform:scaleX(1.0057)">Australia</div>
<div class="t i b" style="left:130.21px;top:745.56px;font-size:25px;color:#f4f2ef;transform:scaleX(0.9852)">U.S.</div>
<div class="t i b" style="left:102.70px;top:807.33px;font-size:25px;color:#f4f2ef;transform:scaleX(1.0336)">Japan</div>
<div class="t i b" style="left:63.30px;top:869.10px;font-size:25px;color:#f4f2ef;transform:scaleX(0.9745)">Indonesia</div>
<div class="t i b" style="left:25.90px;top:930.87px;font-size:25px;color:#f4f2ef;transform:scaleX(0.9966)">Saudi Arabia</div>
<div class="t i b" style="left:117.80px;top:992.64px;font-size:25px;color:#f4f2ef;transform:scaleX(1.0200)">India</div>
<div class="t i b" style="left:57.40px;top:1054.41px;font-size:25px;color:#f4f2ef;transform:scaleX(0.9733)">Euro Zone</div>
<div class="t i b" style="left:83.97px;top:1116.18px;font-size:25px;color:#f4f2ef;transform:scaleX(1.0335)">Canada</div>
<div class="t i b" style="left:31.30px;top:1177.95px;font-size:25px;color:#f4f2ef;transform:scaleX(0.9824)">South Korea</div>
<div class="t i b" style="left:106.78px;top:1239.72px;font-size:25px;color:#f4f2ef;transform:scaleX(1.0154)">China</div>
<div class="t i b" style="left:942.00px;top:249.60px;font-size:26px;color:#f4f2ef;transform:scaleX(0.9904)">33.6%</div>
<div class="t i b" style="left:929.30px;top:311.37px;font-size:26px;color:#f4f2ef;transform:scaleX(0.9322)">33%</div>
<div class="t i b" style="left:444.80px;top:373.14px;font-size:26px;color:#f4f2ef;transform:scaleX(0.9621)">8.1%</div>
<div class="t i b" style="left:387.10px;top:434.91px;font-size:26px;color:#f4f2ef;transform:scaleX(0.9553)">5.1%</div>
<div class="t i b" style="left:358.20px;top:496.68px;font-size:26px;color:#f4f2ef;transform:scaleX(0.9536)">3.8%</div>
<div class="t i b" style="left:352.30px;top:558.45px;font-size:26px;color:#f4f2ef;transform:scaleX(0.9519)">3.6%</div>
<div class="t i b" style="left:347.70px;top:620.22px;font-size:26px;color:#f4f2ef;transform:scaleX(0.9536)">3.3%</div>
<div class="t i b" style="left:340.90px;top:681.99px;font-size:26px;color:#f4f2ef;transform:scaleX(0.8756)">3%</div>
<div class="t i b" style="left:339.65px;top:743.76px;font-size:26px;color:#f4f2ef;transform:scaleX(0.9461)">2.9%</div>
<div class="t i b" style="left:338.14px;top:805.53px;font-size:26px;color:#f4f2ef;transform:scaleX(0.9427)">2.7%</div>
<div class="t i b" style="left:330.75px;top:867.30px;font-size:26px;color:#f4f2ef;transform:scaleX(0.9477)">2.3%</div>
<div class="t i b" style="left:330.75px;top:929.07px;font-size:26px;color:#f4f2ef;transform:scaleX(0.9477)">2.3%</div>
<div class="t i b" style="left:326.95px;top:990.84px;font-size:26px;color:#f4f2ef;transform:scaleX(0.9461)">2.1%</div>
<div class="t i b" style="left:327.26px;top:1052.61px;font-size:26px;color:#f4f2ef;transform:scaleX(0.8606)">2%</div>
<div class="t i b" style="left:327.20px;top:1114.38px;font-size:26px;color:#f4f2ef;transform:scaleX(0.9046)">1.9%</div>
<div class="t i b" style="left:322.20px;top:1176.15px;font-size:26px;color:#f4f2ef;transform:scaleX(0.9029)">1.7%</div>
<div class="t i b" style="left:289.90px;top:1237.92px;font-size:26px;color:#f4f2ef;transform:scaleX(0.9838)">-0.4%</div>
<div class="t b" style="left:876.10px;top:371.60px;font-size:21.5px;color:#e6e7ec;transform:scaleX(1.0143)">Argentina’s</div>
<div class="t" style="left:1002.40px;top:371.60px;font-size:21.5px;color:#e6e7ec;transform:scaleX(1.1013)">inflation slows,</div>
<div class="t" style="left:880.80px;top:410.10px;font-size:21.5px;color:#e6e7ec;transform:scaleX(1.0928)">still the highest in the G20</div>
<div class="t b" style="left:876.44px;top:481.60px;font-size:21.5px;color:#e6e7ec;transform:scaleX(1.0646)">UK</div>
<div class="t" style="left:917.40px;top:481.60px;font-size:21.5px;color:#e6e7ec;transform:scaleX(1.0830)">faces sticky inflation as</div>
<div class="t" style="left:910.00px;top:519.50px;font-size:21.5px;color:#e6e7ec;transform:scaleX(1.0818)">food prices stay high</div>
<div class="t b" style="left:891.25px;top:711.60px;font-size:21.5px;color:#e6e7ec;transform:scaleX(1.0542)">U.S.</div>
<div class="t" style="left:942.92px;top:711.60px;font-size:21.5px;color:#e6e7ec;transform:scaleX(1.0778)">records its highest</div>
<div class="t" style="left:880.70px;top:749.40px;font-size:21.5px;color:#e6e7ec;transform:scaleX(1.0969)">inflation since January at</div>
<div class="t" style="left:983.90px;top:787.50px;font-size:21.5px;color:#e6e7ec;transform:scaleX(1.0963)">2.9%</div>
<div class="t" style="left:873.69px;top:1079.30px;font-size:21.5px;color:#e6e7ec;transform:scaleX(1.1060)">Deflation in</div>
<div class="t b" style="left:999.90px;top:1079.30px;font-size:21.5px;color:#e6e7ec;transform:scaleX(1.0088)">China</div>
<div class="t" style="left:1069.63px;top:1079.30px;font-size:21.5px;color:#e6e7ec;transform:scaleX(1.0330)">worsens,</div>
<div class="t" style="left:909.39px;top:1117.30px;font-size:21.5px;color:#e6e7ec;transform:scaleX(1.1052)">reinforcing domestic</div>
<div class="t" style="left:916.00px;top:1155.20px;font-size:21.5px;color:#e6e7ec;transform:scaleX(1.0713)">slowdown concerns</div>
<div class="t i b" style="left:36.00px;top:1301.50px;font-size:20.5px;color:#ffffff;transform:scaleX(0.9272)">Source:</div>
<div class="t i" style="left:115.00px;top:1301.50px;font-size:20.5px;color:#efeff2;transform:scaleX(1.0307)">National statistics offices of respective countries, FT, CNBC;</div>
<div class="t i b" style="left:683.50px;top:1301.50px;font-size:20.5px;color:#ffffff;transform:scaleX(0.9652)">Research &amp; Visualisation:</div>
<div class="t i" style="left:933.43px;top:1301.50px;font-size:20.5px;color:#efeff2;transform:scaleX(0.9664)">Aneesh Anand</div>
<div class="t b" style="left:50.00px;top:1373.00px;font-size:19.5px;color:#e6fbf3;transform:scaleX(0.9567)">voronoi</div>
<div class="t b" style="left:143.75px;top:1377.50px;font-size:12.7px;color:#def3ea;transform:scaleX(0.9186)">Where Data Tells the Story</div>
<div class="t b" style="left:978.60px;top:1373.20px;font-size:7px;color:#ffffff;transform:scaleX(0.9807)">Download on the</div>
<div class="t" style="left:978.00px;top:1380.00px;font-size:13.7px;color:#ffffff;transform:scaleX(0.9957)">App Store</div>
<div class="t" style="left:1098.00px;top:1372.60px;font-size:6.8px;color:#ffffff;transform:scaleX(0.9097)">GET IT ON</div>
<div class="t" style="left:1098.00px;top:1380.00px;font-size:13.2px;color:#ffffff;transform:scaleX(0.9274)">Google Play</div>
</body></html>
